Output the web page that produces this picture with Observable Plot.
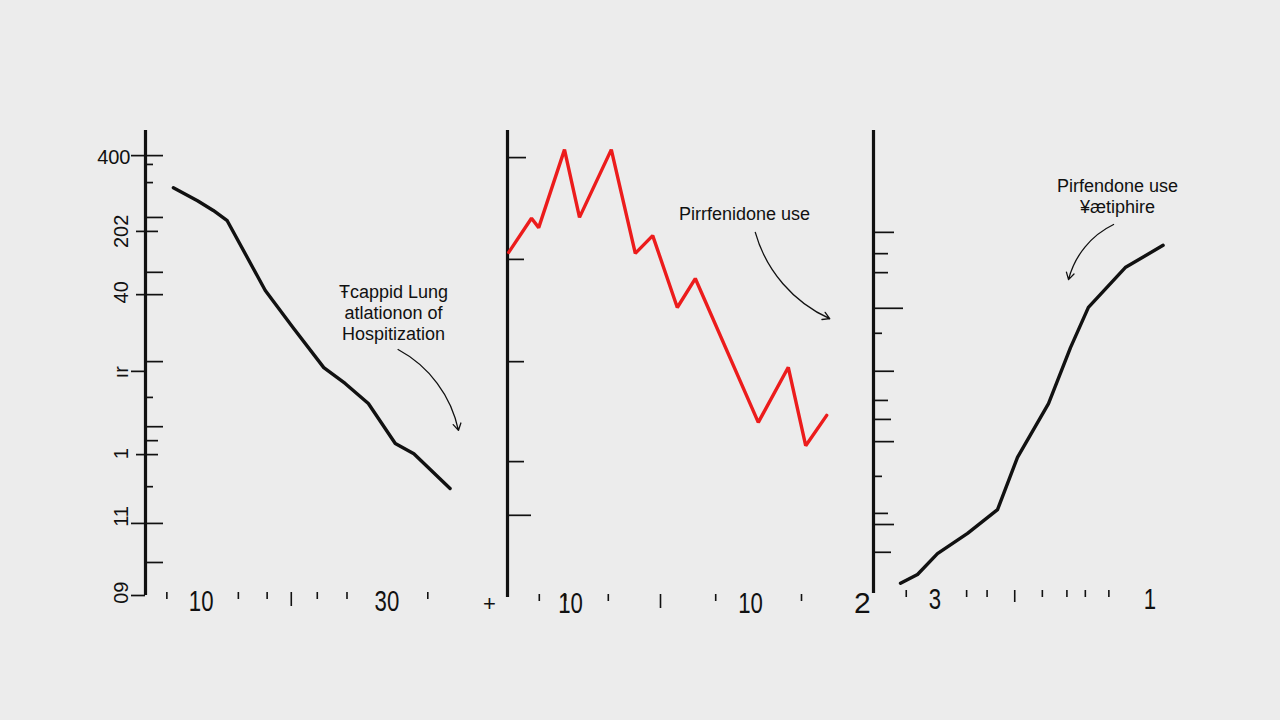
<!DOCTYPE html>
<html><head><meta charset="utf-8">
<script src="https://cdn.jsdelivr.net/npm/d3@7"></script>
<script src="https://cdn.jsdelivr.net/npm/@observablehq/plot@0.6"></script>
<style>
html,body{margin:0;padding:0;background:#ececec;}
#chart{position:relative;width:1280px;height:720px;background:#ececec;overflow:hidden;}
#chart svg{position:absolute;left:0;top:0;}
</style></head><body><div id="chart"></div>
<script>
// ---------- Panel 1 (black, declining) ----------
const p1X = [7.0, 9.6, 11.3, 12.8, 16.9, 19.9, 23.2, 25.5, 28.0, 30.9, 32.9, 36.8];
const p1Y = [87.7, 84.9, 82.8, 80.6, 65.6, 57.6, 49.0, 45.6, 41.3, 32.7, 30.5, 23.0];
const p1TicksRightLong = [94.6, 81.3, 69.5, 64.7, 50.3, 36.3, 15.5, 7.1];
const p1TicksRightMid = [78.3, 33.3, 30.3];
const p1TicksRightShort = [92.7, 88.8, 42.6, 23.4];
const p1TicksLeftLong = [94.6, 48.2, 15.5, 0];
const p1TicksLeftShort = [78.3, 64.7, 30.3];
const p1YLabelFlatValues = [94.2];
const p1YLabelFlat = ["400"];
const p1YLabelRotValues = [78.3, 65.2, 48.0, 30.5, 17.0, 0.6];
const p1YLabelRot = ["202", "40", "ır", "1", "11", "09"];
const p1XTicksSmall = [6.3, 14.0, 17.1, 22.5, 25.7, 34.4];
const p1XTicksTall = [19.7];
const p1XLabelValues = [10, 30];
const p1XLabels = ["10", "30"];
const p1Note = "Ŧcappid Lung\natlationon of\nHospitization";

// ---------- Panel 2 (red, zig-zag decline) ----------
const p2X = [-0.3, 3.5, 4.7, 9.0, 11.5, 16.8, 20.8, 23.7, 27.8, 30.8, 41.3, 46.3, 49.2, 52.7];
const p2Y = [73.9, 81.2, 79.2, 95.9, 81.4, 95.9, 73.7, 77.5, 62.1, 68.3, 37.5, 49.3, 32.5, 39.0];
const p2TicksRightA = [94.2];
const p2TicksRightB = [72.4, 50.5, 29.1];
const p2TicksRightC = [17.6];
const p2XTicksSmall = [4.8, 9.2, 16.3, 34.2, 48.5];
const p2XTicksTall = [25];
const p2XLabelValues = [10, 40];
const p2XLabels = ["10", "10"];
const p2Note = "Pirrfenidone use";

// ---------- Panel 3 (black, rising) ----------
const p3X = [2.64, 4.3, 6.25, 9.19, 12.12, 14.07, 17.1, 19.25, 21.0, 24.6, 28.3];
const p3Y = [2.2, 4.1, 8.6, 13.0, 18.1, 29.4, 41.0, 53.1, 61.8, 70.4, 75.2];
const p3TicksA = [78.0, 48.0, 32.8, 14.9];
const p3TicksB = [61.6];
const p3TicksC = [73.4, 69.3, 41.7, 17.3];
const p3TicksD = [37.6, 8.9];
const p3TicksE = [56.2, 25.3];
const p3XTicksSmall = [3.2, 9.1, 11.1, 16.5, 18.9, 20.7, 23.0];
const p3XTicksTall = [13.8];
const p3XLabelValues = [6, 27];
const p3XLabels = ["3", "1"];
const p3Note = "Pirfendone use\n¥ætiphire";

const INK = "#111";
const NARROW = "'Liberation Sans', Arial, sans-serif";
const NOTE_FONT = "'Liberation Sans', Arial, sans-serif";

const pts = (xs, ys) => xs.map((x, i) => ({x, y: ys[i]}));
const tickRight = (ticks, len) => Plot.axisY(ticks, {anchor: "right", frameAnchor: "left", tickSize: len, fill: "none", label: null, stroke: INK, strokeWidth: 1.7});
const tickLeft = (ticks, len) => Plot.axisY(ticks, {anchor: "left", tickSize: len, fill: "none", label: null, stroke: INK, strokeWidth: 1.7});
const tickBottom = (ticks, len) => Plot.axisX(ticks, {anchor: "bottom", tickSize: len, dy: -3, fill: "none", label: null, stroke: INK, strokeWidth: 1.6});
const labelBottom = (vals, labels) => {
  const m = new Map(vals.map((v, i) => [v, labels[i]]));
  return Plot.axisX(vals, {anchor: "bottom", tickSize: 0, tickPadding: 0, dy: -6, tickFormat: d => m.get(d), fontSize: 30, fontFamily: NARROW, fill: INK, label: null});
};

function panel({xDomain, margins, marks}) {
  return Plot.plot({
    width: 1280, height: 720,
    marginLeft: margins[0], marginRight: margins[1], marginTop: margins[2], marginBottom: margins[3],
    x: {domain: xDomain}, y: {domain: [0, 100]},
    style: {background: "transparent", overflow: "visible"},
    marks: [Plot.ruleX([xDomain[0]], {stroke: INK, strokeWidth: 3.2}), ...marks]
  });
}

const chart = document.getElementById("chart");

// Panel 1
chart.append(panel({
  xDomain: [4, 39], margins: [145, 810, 130, 125],
  marks: [
    tickRight(p1TicksRightLong, 17), tickRight(p1TicksRightMid, 12), tickRight(p1TicksRightShort, 7),
    tickLeft(p1TicksLeftLong, 14), tickLeft(p1TicksLeftShort, 9),
    Plot.text(p1YLabelFlatValues, {x: 4, y: d => d, text: (d, i) => p1YLabelFlat[i], textAnchor: "end", dx: -15, fontSize: 20, fontFamily: NARROW, fill: INK}),
    Plot.text(p1YLabelRotValues, {x: 4, y: d => d, text: (d, i) => p1YLabelRot[i], rotate: -90, dx: -24, fontSize: 20, fontFamily: NARROW, fill: INK}),
    tickBottom(p1XTicksSmall, 7), tickBottom(p1XTicksTall, 14),
    labelBottom(p1XLabelValues, p1XLabels),
    Plot.line(pts(p1X, p1Y), {x: "x", y: "y", stroke: INK, strokeWidth: 3.4, strokeLinejoin: "round", strokeLinecap: "round"}),
    Plot.text([p1Note], {x: 30.7, y: 60.9, text: d => d, fontSize: 18, fontFamily: NOTE_FONT, fill: INK, lineHeight: 1.17}),
    Plot.arrow([{x1: 31.2, y1: 52.9, x2: 37.7, y2: 35.5}], {x1: "x1", y1: "y1", x2: "x2", y2: "y2", bend: 25, stroke: INK, strokeWidth: 1.3, headLength: 9})
  ]
}));

// Panel 2
chart.append(panel({
  xDomain: [-0.5, 55], margins: [507, 440, 130, 123],
  marks: [
    tickRight(p2TicksRightA, 18), tickRight(p2TicksRightB, 16), tickRight(p2TicksRightC, 23),
    tickBottom(p2XTicksSmall, 7), tickBottom(p2XTicksTall, 14),
    labelBottom(p2XLabelValues, p2XLabels),
    Plot.text(["+"], {x: -3.5, y: 0, text: d => d, dy: 6, fontSize: 22, fontFamily: NARROW, fill: INK}),
    Plot.line(pts(p2X, p2Y), {x: "x", y: "y", stroke: "#ec1c1c", strokeWidth: 3.4, strokeLinejoin: "miter", strokeLinecap: "round"}),
    Plot.text([p2Note], {x: 39.0, y: 82.0, text: d => d, fontSize: 18, fontFamily: NOTE_FONT, fill: INK}),
    Plot.arrow([{x1: 40.8, y1: 78.2, x2: 53.2, y2: 59.7}], {x1: "x1", y1: "y1", x2: "x2", y2: "y2", bend: -25, stroke: INK, strokeWidth: 1.3, headLength: 9})
  ]
}));

// Panel 3
chart.append(panel({
  xDomain: [0, 30], margins: [873, 100, 130, 127],
  marks: [
    tickRight(p3TicksA, 20), tickRight(p3TicksB, 29), tickRight(p3TicksC, 14), tickRight(p3TicksD, 17), tickRight(p3TicksE, 8),
    tickBottom(p3XTicksSmall, 7), tickBottom(p3XTicksTall, 12),
    labelBottom(p3XLabelValues, p3XLabels),
    Plot.text(["2"], {x: -1.1, y: 0, text: d => d, dy: 10, fontSize: 30, fontFamily: NARROW, fill: INK, ariaLabel: "x-axis tick label"}),
    Plot.line(pts(p3X, p3Y), {x: "x", y: "y", stroke: INK, strokeWidth: 3.4, strokeLinejoin: "round", strokeLinecap: "round"}),
    Plot.text([p3Note], {x: 23.84, y: 85.9, text: d => d, fontSize: 18, fontFamily: NOTE_FONT, fill: INK, lineHeight: 1.17}),
    Plot.arrow([{x1: 23.46, y1: 79.7, x2: 19.06, y2: 67.8}], {x1: "x1", y1: "y1", x2: "x2", y2: "y2", bend: -25, stroke: INK, strokeWidth: 1.3, headLength: 9})
  ]
}));

// Narrow the big bottom tick labels, as in the reference (horizontal squeeze only).
d3.selectAll('#chart g[aria-label="x-axis tick label"] text').each(function() {
  const t = this.getAttribute("transform") || "";
  this.setAttribute("transform", t + " scale(0.74,1)");
});
</script></body></html>
